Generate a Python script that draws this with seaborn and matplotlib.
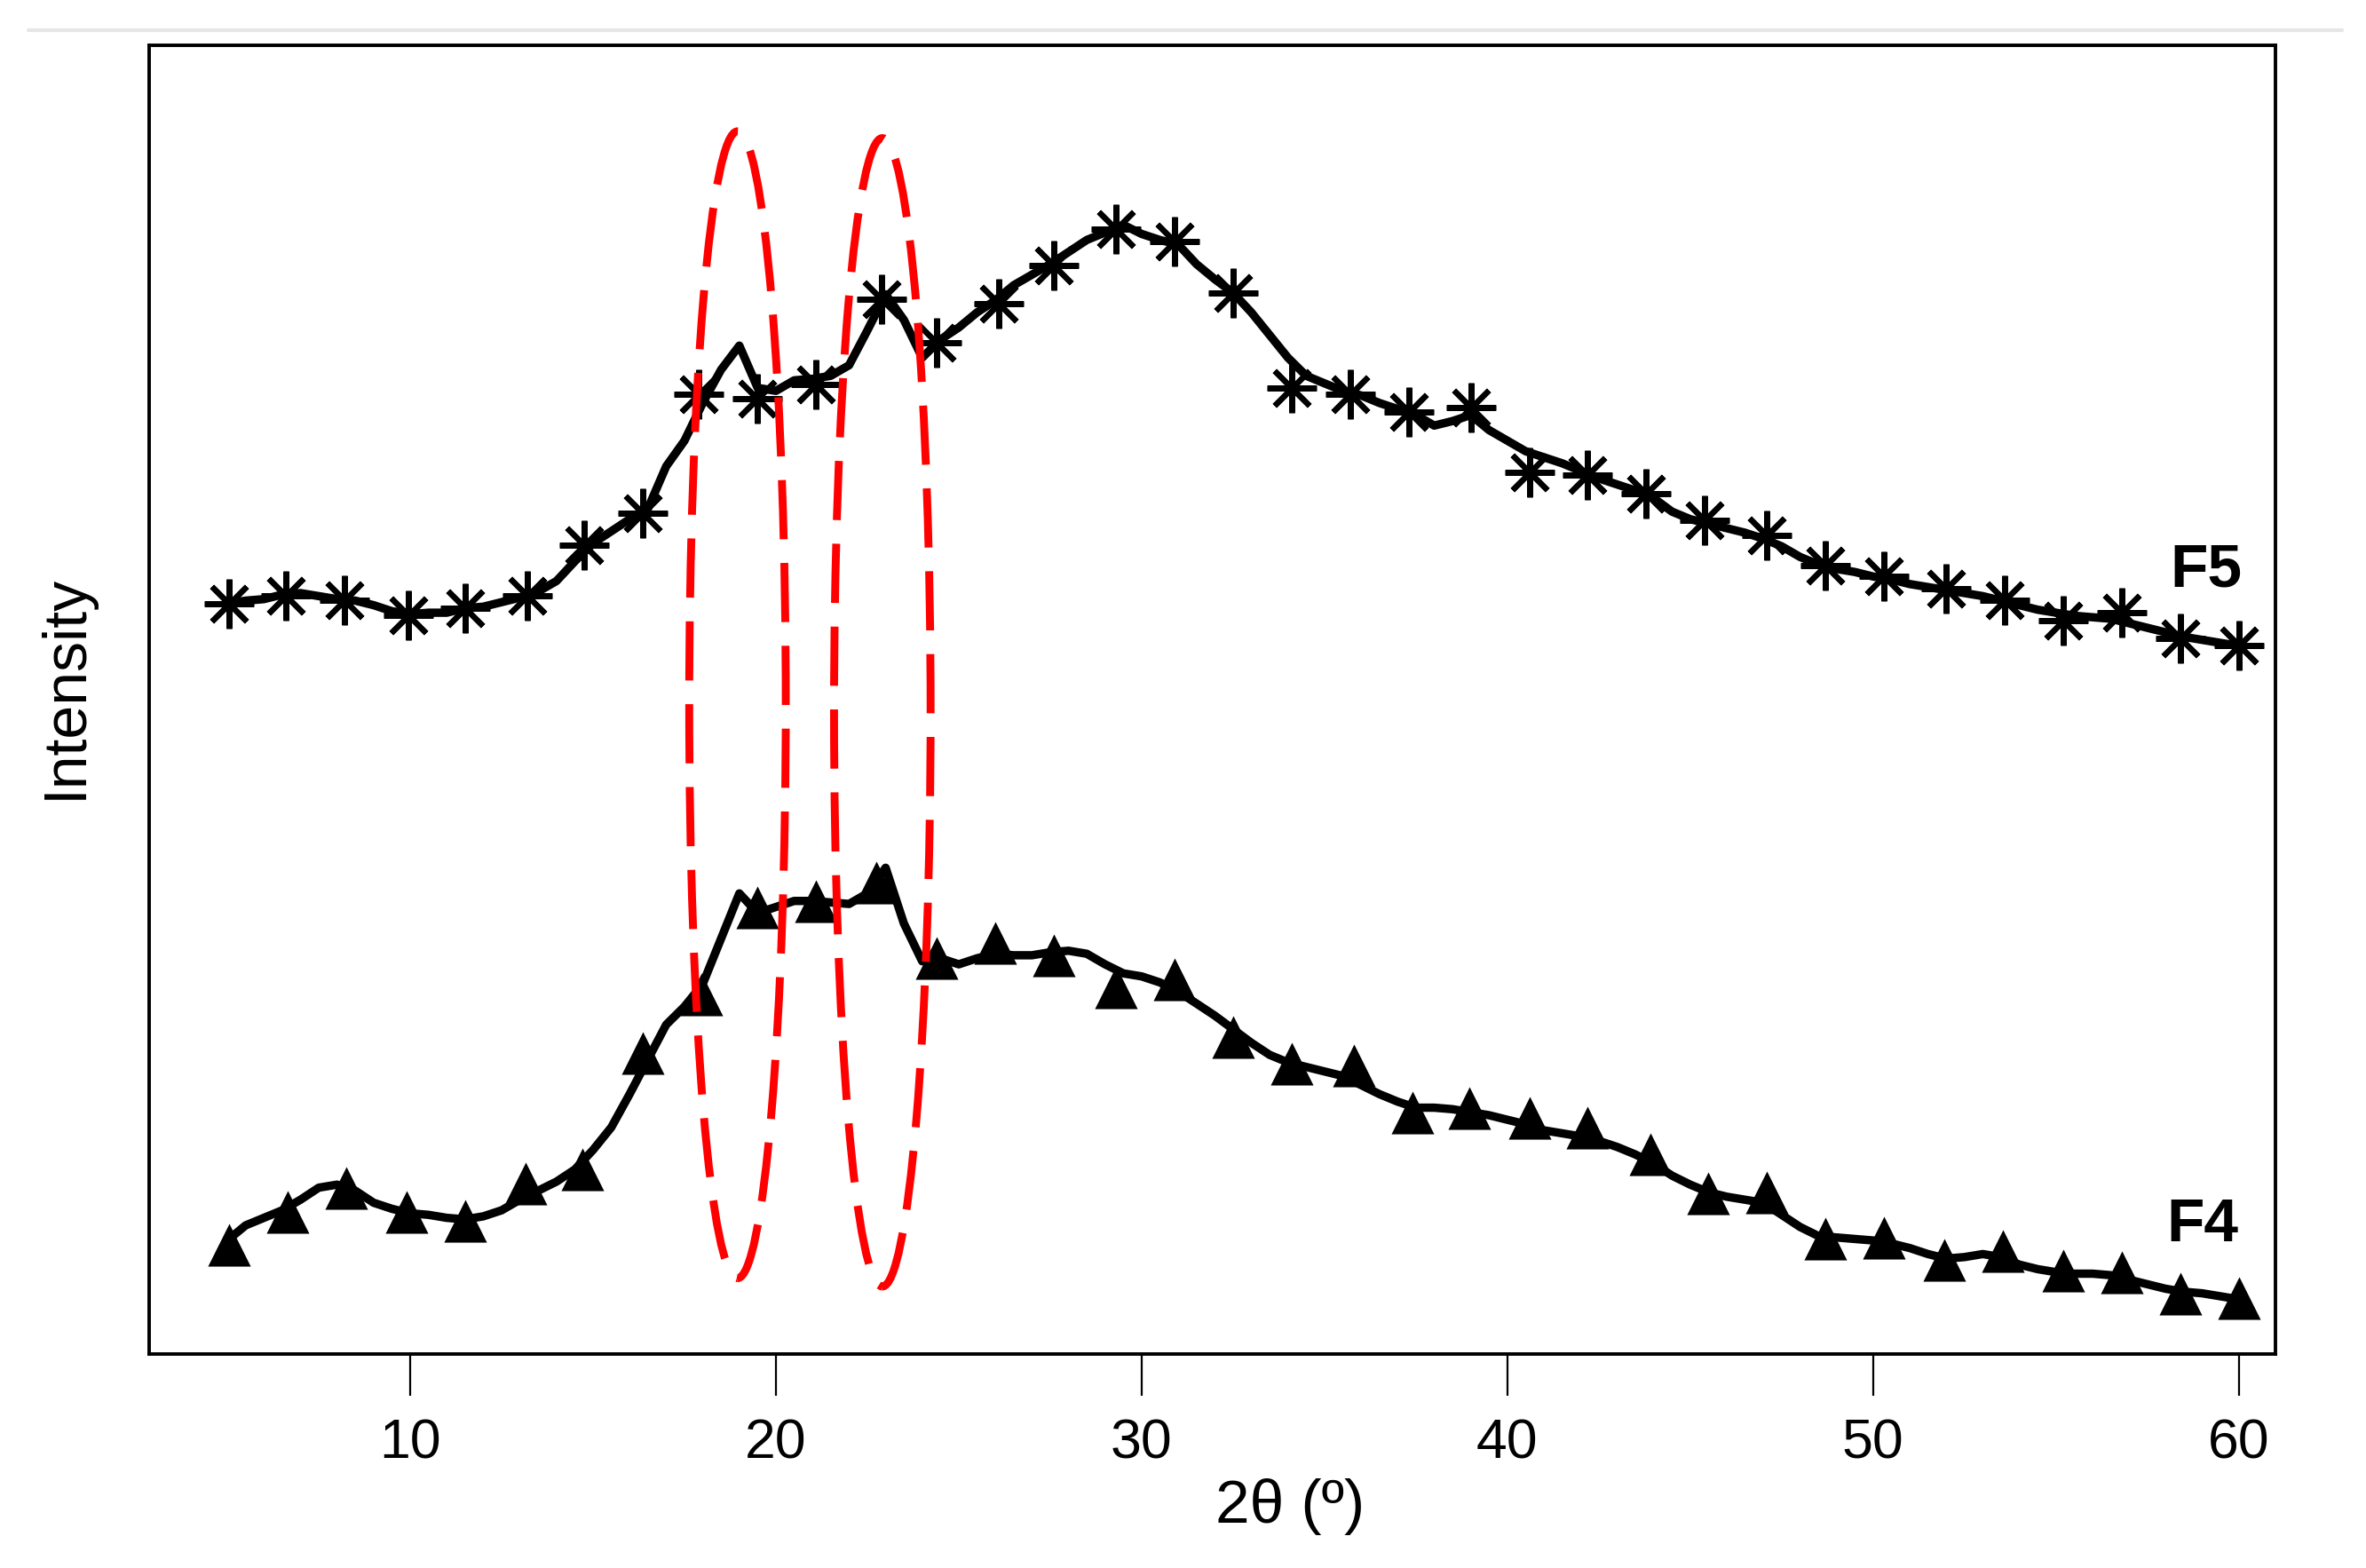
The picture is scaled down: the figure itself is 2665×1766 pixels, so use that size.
import numpy as np
import pandas as pd
import seaborn as sns
import matplotlib.pyplot as plt
from matplotlib.patches import Ellipse
from matplotlib.lines import Line2D

# 2theta grid of the traces (degrees)
theta = np.arange(5.0, 60.01, 0.5)

# F5 intensity (a.u.)
f5 = [497, 499, 500, 503, 504, 502, 500, 499, 496, 492,
      490, 491, 491, 494, 495, 498, 501, 505, 512, 525,
      537, 545, 553, 560, 588, 605, 630, 652, 668, 640,
      638, 645, 646, 648, 655, 678, 702, 685, 660, 672,
      680, 690, 698, 708, 715, 722, 730, 738, 743, 748,
      742, 738, 735, 722, 712, 703, 690, 675, 660, 648,
      643, 638, 635, 630, 626, 622, 615, 618, 622, 612,
      605, 598, 594, 590, 585, 580, 576, 572, 567, 558,
      553, 550, 547, 544, 540, 535, 528, 523, 520, 518,
      515, 513, 510, 508, 506, 504, 502, 499, 496, 493,
      491, 489, 488, 487, 484, 481, 478, 475, 473, 471,
      469]

# F4 intensity (a.u.)
f4 = [75, 85, 90, 95, 102, 110, 112, 108, 100, 96,
      93, 92, 90, 89, 91, 95, 102, 108, 114, 122,
      135, 150, 172, 195, 218, 230, 245, 275, 305, 292,
      296, 300, 300, 299, 298, 305, 322, 285, 260, 262,
      258, 262, 265, 264, 264, 266, 267, 265, 258, 252,
      250, 246, 240, 232, 224, 215, 206, 198, 193, 190,
      187, 184, 178, 172, 167, 163, 163, 162, 160, 158,
      155, 152, 148, 146, 144, 141, 137, 132, 126, 118,
      112, 107, 104, 102, 100, 92, 84, 78, 77, 76,
      75, 73, 70, 66, 63, 64, 66, 64, 59, 56,
      54, 53, 53, 52, 49, 46, 43, 41, 40, 38,
      36]

# marker points
f5_mx = [5.05, 6.6, 8.2, 9.95, 11.5, 13.2, 14.75, 16.35, 17.9, 19.5, 21.1, 22.9,
         24.4, 26.1, 27.6, 29.3, 30.9, 32.5, 34.1, 35.7, 37.3, 39.0, 40.6, 42.2,
         43.8, 45.4, 47.1, 48.7, 50.3, 52.0, 53.6, 55.2, 56.8, 58.4, 60.0]
f5_my = [497, 502, 499, 489, 494, 502, 536, 557, 636, 633, 642, 699,
         670, 696, 721, 745, 737, 703, 640, 636, 624, 627, 584, 582,
         570, 552, 542, 522, 515, 507, 499, 486, 491, 474, 469]
f4_mx = [5.05, 6.65, 8.25, 9.9, 11.5, 13.15, 14.7, 16.35, 17.95, 19.5, 21.1, 22.75,
         24.4, 26.0, 27.6, 29.3, 30.9, 32.5, 34.1, 35.8, 37.4, 38.95, 40.6, 42.2,
         43.9, 45.5, 47.1, 48.7, 50.3, 51.95, 53.55, 55.2, 56.8, 58.4, 60.0]
f4_my = [72, 94, 110, 94, 88, 113, 122, 199, 238, 296, 300, 312,
         262, 272, 264, 243, 248, 210, 192, 191, 160, 163, 156, 150,
         132, 106, 107, 76, 77, 62, 68, 55, 54, 40, 37]

# highlighted regions (center 2theta, center intensity, width, height)
regions = [(18.95, 430, 2.64, 760), (22.91, 425, 2.64, 761)]

sns.set_style("ticks")
plt.rcParams['font.family'] = ['Liberation Sans', 'DejaVu Sans']
plt.rcParams['text.color'] = 'black'
plt.rcParams['axes.labelcolor'] = 'black'
plt.rcParams['xtick.color'] = 'black'

fig = plt.figure(figsize=(13.325, 8.83), dpi=200)
ax = fig.add_axes([0.063, 0.1367, 0.8987, 0.8344])

df5 = pd.DataFrame({"theta": theta, "I": f5})
df4 = pd.DataFrame({"theta": theta, "I": f4})
sns.lineplot(data=df5, x="theta", y="I", color="black", lw=3.4, ax=ax)
sns.lineplot(data=df4, x="theta", y="I", color="black", lw=3.4, ax=ax)

ax.plot(f5_mx, f5_my, ls="none", marker=(8, 2, 0), ms=20, mew=2.3,
        color="black")
sns.scatterplot(x=f4_mx, y=f4_my, marker="^", s=300, color="black",
                edgecolor="black", linewidth=0, ax=ax, zorder=3)

for cx, cy, w, h in regions:
    ax.add_patch(Ellipse((cx, cy), w, h, fill=False, edgecolor="#ff0000",
                         lw=3.2, linestyle=(0, (7.5, 3)), zorder=4))

ax.text(59.1, 519, "F5", fontsize=25, fontweight="bold", color="black",
        ha="center", va="center")
ax.text(59.0, 85, "F4", fontsize=25, fontweight="bold", color="black",
        ha="center", va="center")

ax.set_xlim(2.86, 61.0)
ax.set_ylim(0, 867)
ax.set_xticks([10, 20, 30, 40, 50, 60])
ax.set_yticks([])
ax.tick_params(axis="x", direction="out", length=17, width=0.8,
               labelsize=22.5, pad=9, color="black", labelcolor="black")
for s in ax.spines.values():
    s.set_color("black")
    s.set_linewidth(1.4)
ax.set_xlabel("2θ (º)", fontsize=25, color="black")
ax.set_ylabel("Intensity", fontsize=24.5, color="black")
ax.xaxis.set_label_coords(0.5366, -0.095)
ax.yaxis.set_label_coords(-0.026, 0.51)

fig.add_artist(Line2D([0.012, 0.99], [0.981, 0.981], color="#e6e6e6", lw=1.5))

fig.savefig("out.png", dpi=200)
